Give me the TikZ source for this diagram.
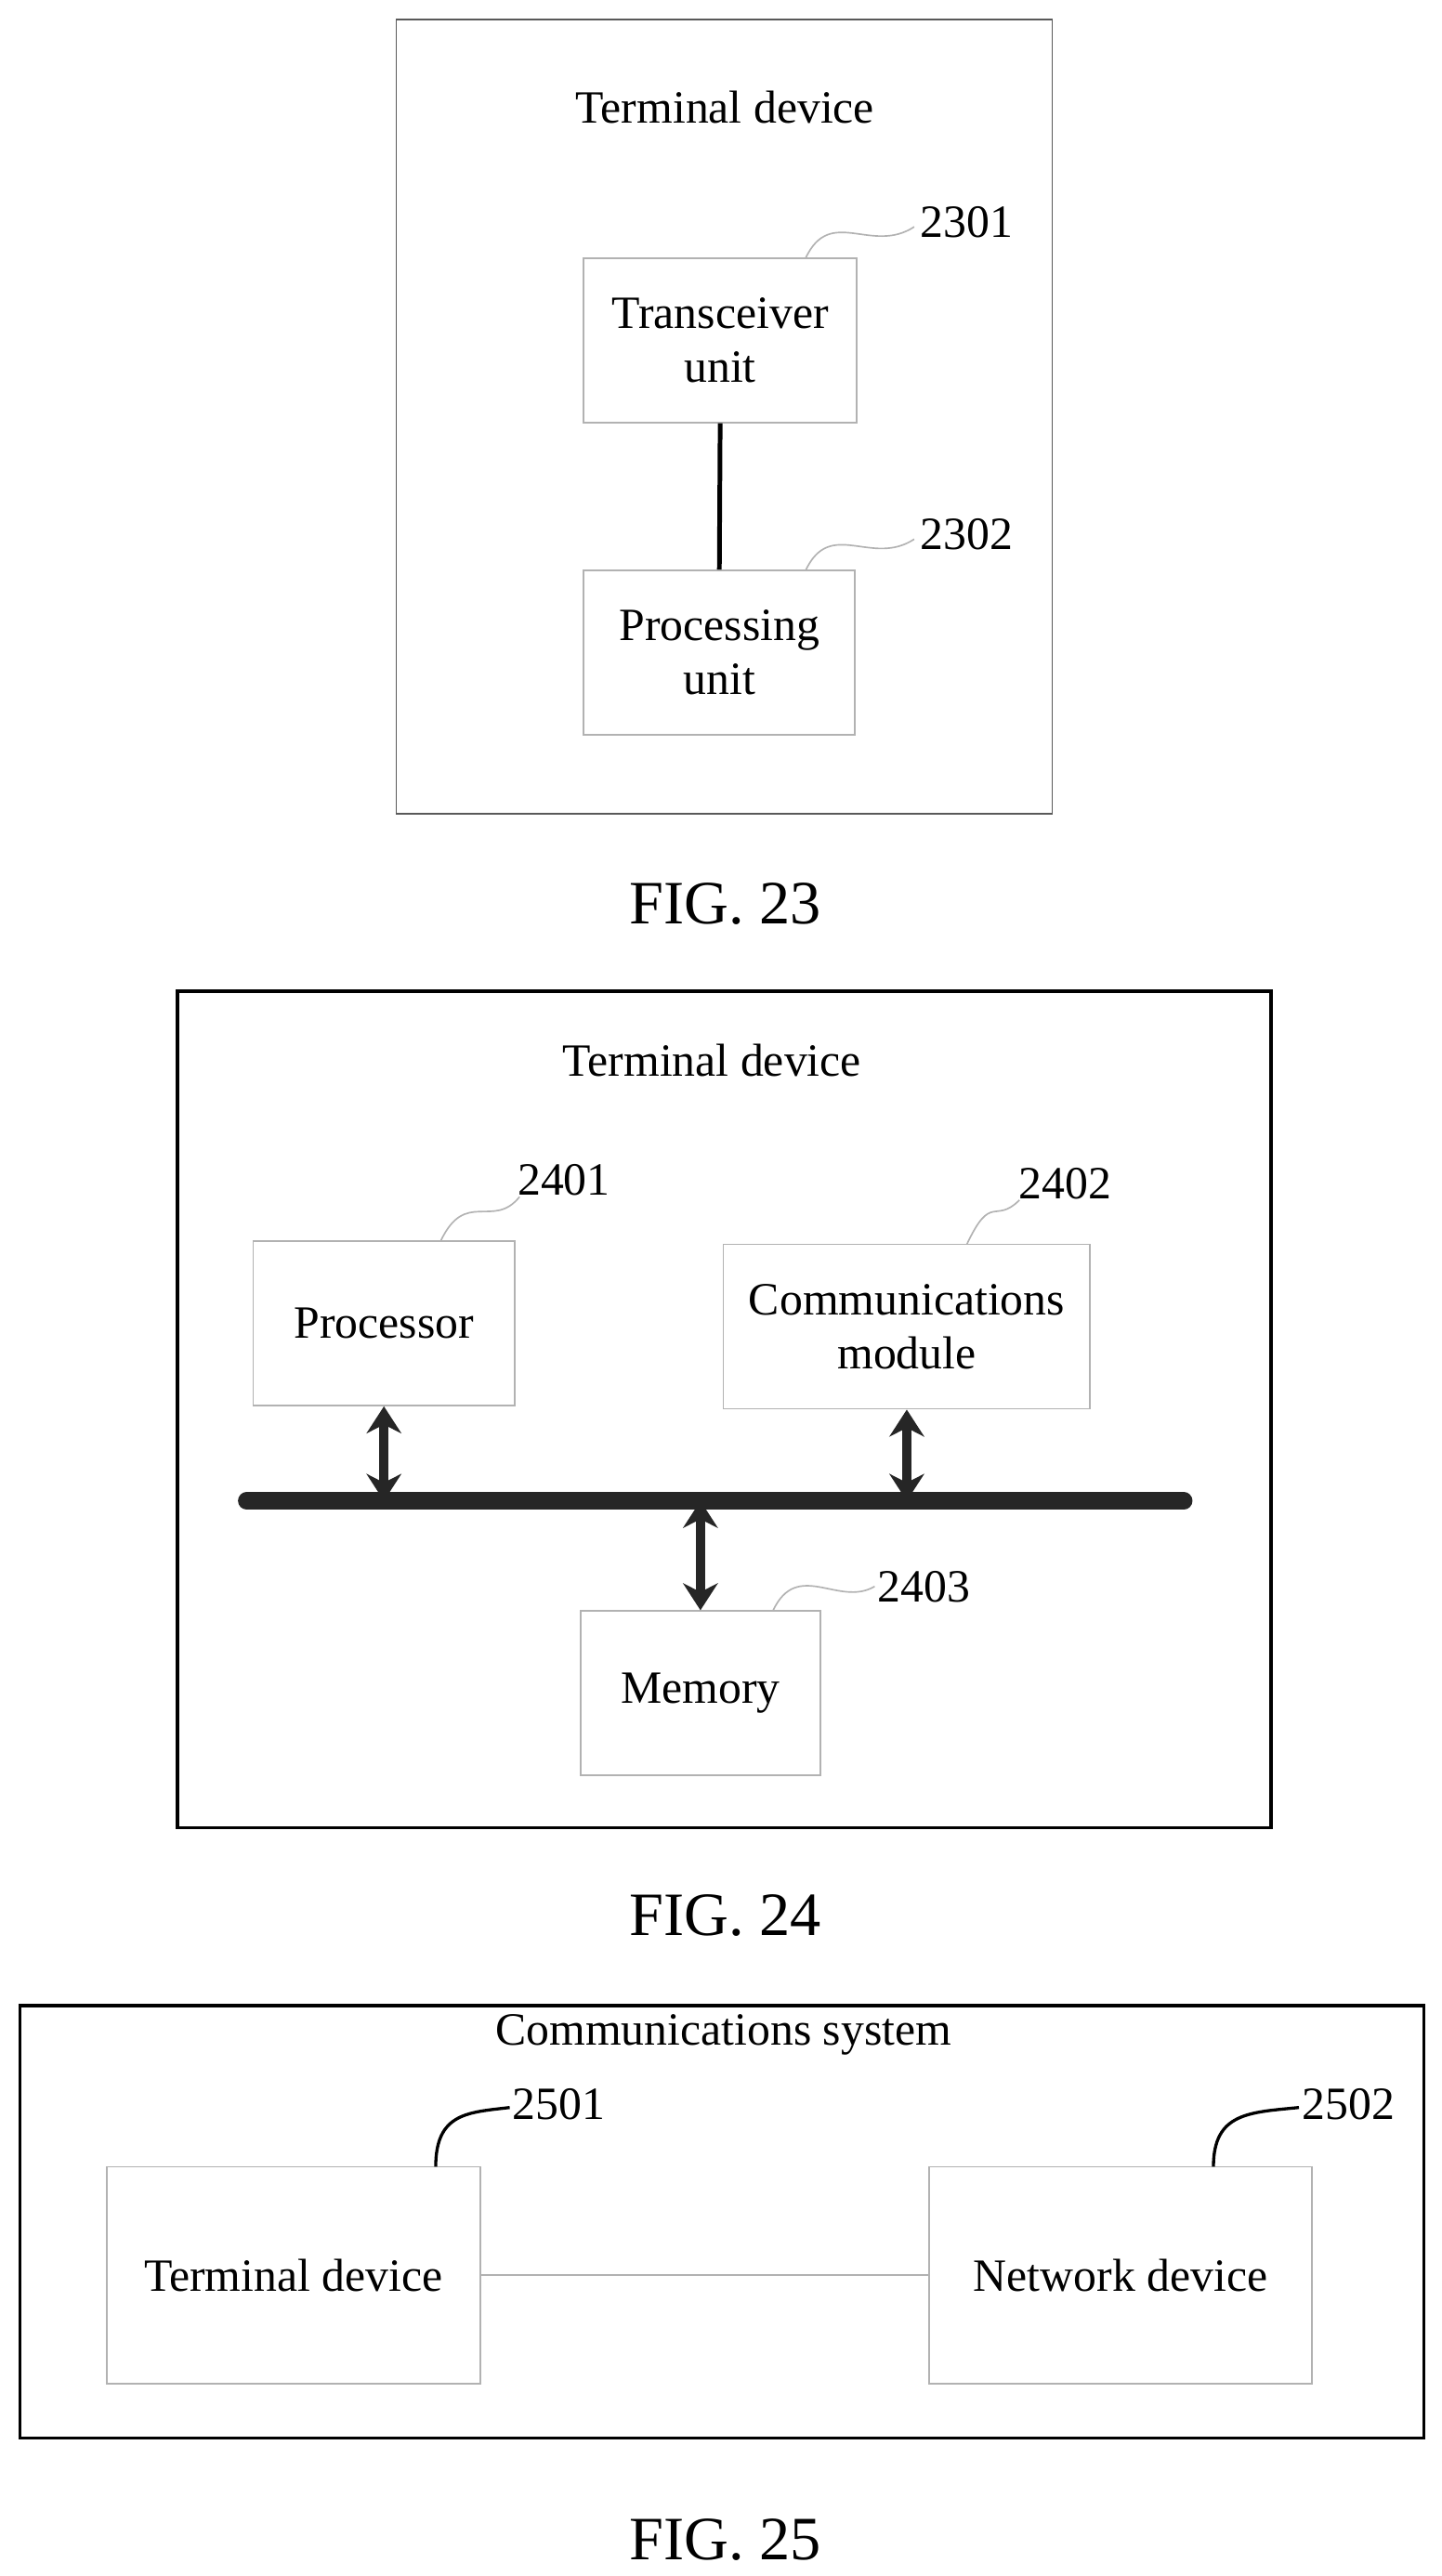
\documentclass[tikz,border=0pt]{standalone}
\usepackage{fontspec}
\setmainfont{Liberation Serif}
\usetikzlibrary{arrows.meta}
\tikzset{x=0.015cm, y=-0.015cm,
every node/.style={font=\fontsize{12}{14}\selectfont}, % body text
frame/.style={draw, gray!70!black, thin},
unit/.style={draw=gray!60, thin, text=black, align=center},
fig/.style={font=\fontsize{16}{18}\selectfont},
wave/.style={draw, gray!60, thin},
bus arrow/.style={{Stealth[length=7pt,width=9pt]}-{Stealth[length=7pt,width=9pt]}, line width=2.5pt, black!85}}

\begin{document}
\begin{tikzpicture}
\useasboundingbox (0,0) rectangle (877,1567);

% FIG. 23
\draw[frame] (241,12) rectangle (640,495);
\node (t23) at (441,65) {Terminal device};
\node[unit, minimum width=166*0.015cm, minimum height=100*0.015cm] (tu) at (438,207) {Transceiver\\unit};
\node[unit, minimum width=165*0.015cm, minimum height=100*0.015cm] (pu) at (437.5,397) {Processing\\unit};
\draw[line width=1.2pt] (tu.south) -- (pu.north);
\node (l2301) at (588,135) {2301};
\node (l2302) at (588,325) {2302};
\draw[wave] (490,157) .. controls (505,125) and (530,155) .. (556,138);
\draw[wave] (490,347) .. controls (505,315) and (530,345) .. (556,328);
\node[fig] (f23) at (441,550) {FIG. 23};

% FIG. 24
\draw[frame, thick, black] (108,603) rectangle (773,1112);
\node (t24) at (433,645) {Terminal device};
\node[unit, minimum width=159*0.015cm, minimum height=100*0.015cm] (proc) at (233.5,805) {Processor};
\node[unit, minimum width=223*0.015cm, minimum height=100*0.015cm] (comm) at (551.5,807) {Communications\\module};
\node[unit, minimum width=146*0.015cm, minimum height=100*0.015cm] (mem) at (426,1030) {Memory};
\coordinate (busl) at (150,913);
\coordinate (busr) at (720,913);
\draw[line width=4.5pt, black!85, line cap=round] (busl) -- (busr);
\draw[bus arrow] (proc.south) -- (proc.south |- busl);
\draw[bus arrow] (comm.south) -- (comm.south |- busl);
\draw[bus arrow] (mem.north) -- (mem.north |- busl);
\node (l2401) at (343,718) {2401};
\node (l2402) at (648,720) {2402};
\node (l2403) at (562,965) {2403};
\draw[wave] (268,755) .. controls (283,723) and (300,748) .. (316,728);
\draw[wave] (588,757) .. controls (603,725) and (605,745) .. (620,730);
\draw[wave] (470,980) .. controls (485,948) and (510,978) .. (532,965);
\node[fig] (f24) at (441,1165) {FIG. 24};

% FIG. 25
\draw[frame, thick, black] (12,1220) rectangle (866,1483);
\node (t25) at (440,1238) {Communications system};
\node[unit, minimum width=227*0.015cm, minimum height=132*0.015cm] (term) at (178.5,1384) {Terminal device};
\node[unit, minimum width=233*0.015cm, minimum height=132*0.015cm] (net) at (681.5,1384) {Network device};
\draw[gray!60] (term) -- (net);
\node (l2501) at (340,1280) {2501};
\node (l2502) at (820,1280) {2502};
\draw[thick] (265,1318) .. controls (265,1285) and (285,1285) .. (310,1282);
\draw[thick] (738,1318) .. controls (738,1285) and (760,1285) .. (790,1282);
\node[fig] (f25) at (441,1545) {FIG. 25};
\end{tikzpicture}
\end{document}
